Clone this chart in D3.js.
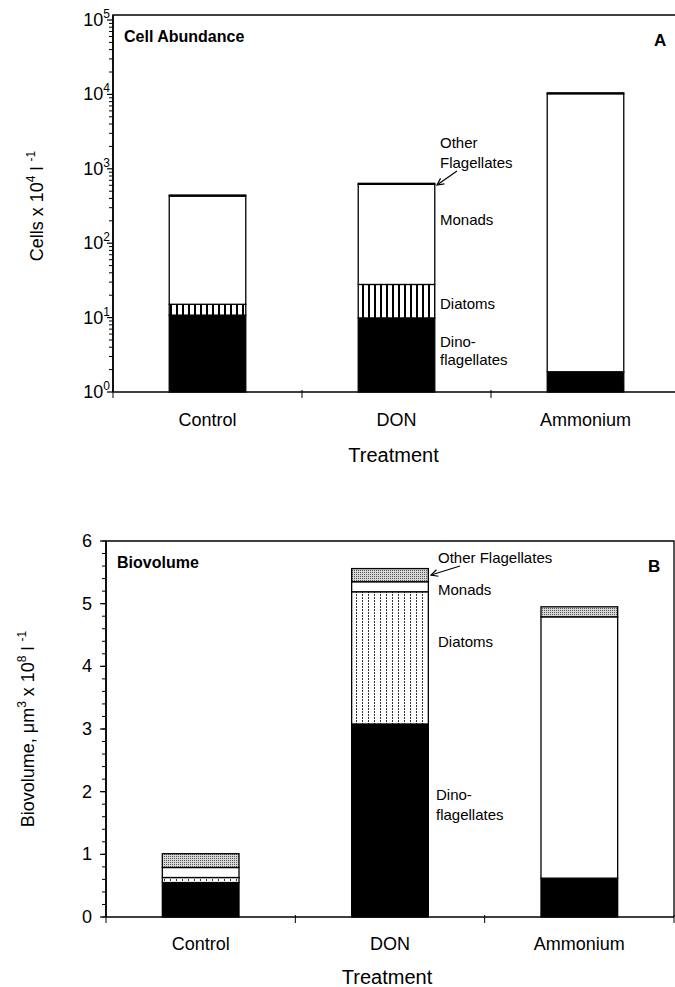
<!DOCTYPE html>
<html>
<head>
<meta charset="utf-8">
<script src="https://cdn.jsdelivr.net/npm/d3@7"></script>
<style>
  body { margin: 0; background: #fff; }
  svg { display: block; font-family: "Liberation Sans", Arial, sans-serif; }
</style>
</head>
<body>
<div id="chart"></div>
<script>
var treatments = ["Control", "DON", "Ammonium"];
var groups = ["Dino", "Diatoms", "Monads", "Other"];

// panel A, cells x 10^4 per litre
var cellsDino = [10.8, 9.9, 1.87];
var cellsDiatoms = [4.3, 18, 0];
var cellsMonads = [415, 590, 10200];
var cellsOther = [14, 20, 300];

// panel B, biovolume um3 x 10^8 per litre
var bioDino = [0.55, 3.08, 0.62];
var bioDiatoms = [0.08, 2.11, 0];
var bioMonads = [0.16, 0.16, 4.17];
var bioOther = [0.22, 0.21, 0.16];

var logTicks = [1, 10, 100, 1000, 10000, 100000];
var linTicks = [0, 1, 2, 3, 4, 5, 6];

var svg = d3.select("#chart").append("svg")
    .attr("width", 675)
    .attr("height", 987);

var defs = svg.append("defs");

var vlines = defs.append("pattern")
    .attr("id", "vlines").attr("patternUnits", "userSpaceOnUse")
    .attr("width", 6).attr("height", 6);
vlines.append("rect").attr("width", 6).attr("height", 6).attr("fill", "#fff");
vlines.append("rect").attr("x", 2).attr("width", 2).attr("height", 6).attr("fill", "#000");

var vdots = defs.append("pattern")
    .attr("id", "vdots").attr("patternUnits", "userSpaceOnUse")
    .attr("width", 6).attr("height", 3);
vdots.append("rect").attr("width", 6).attr("height", 3).attr("fill", "#fff");
vdots.append("rect").attr("x", 2).attr("width", 1).attr("height", 2).attr("fill", "#333");

var stipple = defs.append("pattern")
    .attr("id", "stipple").attr("patternUnits", "userSpaceOnUse")
    .attr("width", 2).attr("height", 2);
stipple.append("rect").attr("width", 2).attr("height", 2).attr("fill", "#d8d8d8");
stipple.append("rect").attr("width", 1).attr("height", 1).attr("fill", "#555");

defs.append("marker")
    .attr("id", "arrow").attr("viewBox", "0 0 10 10")
    .attr("refX", 9).attr("refY", 5)
    .attr("markerWidth", 7).attr("markerHeight", 7)
    .attr("orient", "auto")
  .append("path")
    .attr("d", "M1,1 L9,5 L1,9")
    .attr("fill", "none").attr("stroke", "#000").attr("stroke-width", 1.4);

function rows(a, b, c, d) {
    return treatments.map(function (t, i) {
        return { treatment: t, Dino: a[i], Diatoms: b[i], Monads: c[i], Other: d[i] };
    });
}

function drawPanel(p) {
    var g = svg.append("g");
    var x = d3.scaleBand().domain(treatments)
        .range([p.left, p.right]).paddingInner(0.595).paddingOuter(0.2975);
    var y = p.y;
    var y0 = y.range()[0];
    var yTop = y.range()[1];

    var series = d3.stack().keys(groups)(p.data);

    // frame
    g.append("path")
        .attr("d", "M" + p.left + "," + y0 + "V" + p.frameTop + "H" + p.right + "V" + y0)
        .attr("fill", "none").attr("stroke", "#000").attr("stroke-width", 1.3);

    // bars
    series.forEach(function (s, k) {
        g.selectAll(null)
            .data(s.filter(function (d) { return d[1] - d[0] > 0; }))
            .enter().append("rect")
            .attr("x", function (d) { return x(d.data.treatment); })
            .attr("width", x.bandwidth())
            .attr("y", function (d) { return y(d[1]); })
            .attr("height", function (d) { return y(Math.max(d[0], p.floor)) - y(d[1]); })
            .attr("fill", p.fills[k])
            .attr("stroke", "#000").attr("stroke-width", 1.3);
    });

    // x axis
    g.append("line").attr("x1", p.left).attr("x2", p.right)
        .attr("y1", y0).attr("y2", y0)
        .attr("stroke", "#000").attr("stroke-width", 1.6);
    var bounds = [p.left].concat(treatments.map(function (t) {
        return x(t) + x.bandwidth() / 2 + x.step() / 2;
    }));
    g.selectAll(null).data(bounds).enter().append("line")
        .attr("x1", function (d) { return d; }).attr("x2", function (d) { return d; })
        .attr("y1", y0 - 2).attr("y2", y0 + 6)
        .attr("stroke", "#000").attr("stroke-width", 1);
    g.selectAll(null).data(treatments).enter().append("text")
        .attr("x", function (d) { return x(d) + x.bandwidth() / 2; })
        .attr("y", y0 + p.catDy)
        .attr("text-anchor", "middle").attr("font-size", 18)
        .text(function (d) { return d; });
    g.append("text")
        .attr("x", (p.left + p.right) / 2 - 3).attr("y", y0 + p.titleDy)
        .attr("text-anchor", "middle").attr("font-size", 20)
        .text("Treatment");

    // y axis
    g.append("line").attr("x1", p.left).attr("x2", p.left)
        .attr("y1", y0).attr("y2", p.frameTop)
        .attr("stroke", "#000").attr("stroke-width", 1.6);
    g.selectAll(null).data(p.minor).enter().append("line")
        .attr("x1", p.left - 4).attr("x2", p.left)
        .attr("y1", function (d) { return y(d); }).attr("y2", function (d) { return y(d); })
        .attr("stroke", "#000").attr("stroke-width", 1);
    g.selectAll(null).data(p.ticks).enter().append("line")
        .attr("x1", p.left - 6).attr("x2", p.left)
        .attr("y1", function (d) { return y(d); }).attr("y2", function (d) { return y(d); })
        .attr("stroke", "#000").attr("stroke-width", 1.2);
    var tl = g.selectAll(null).data(p.ticks).enter().append("text")
        .attr("x", p.left - p.labelGap).attr("y", function (d) { return y(d) + 6; })
        .attr("text-anchor", "end").attr("font-size", 18);
    p.tickText(tl);

    // y title
    var yt = g.append("text")
        .attr("transform", "translate(" + p.yTitleX + "," + ((y0 + yTop) / 2) + ") rotate(-90)")
        .attr("text-anchor", "middle").attr("font-size", 18);
    p.yTitle(yt);

    // panel title and letter
    g.append("text").attr("x", p.left + 11).attr("y", p.frameTop + 27)
        .attr("font-size", 16).attr("font-weight", "bold").text(p.title);
    g.append("text").attr("x", p.letterX).attr("y", p.frameTop + 31)
        .attr("font-size", 17).attr("font-weight", "bold").text(p.letter);

    // labels
    p.labels.forEach(function (l) {
        g.append("text").attr("x", l[0]).attr("y", l[1])
            .attr("font-size", 15).text(l[2]);
    });
    g.append("line")
        .attr("x1", p.arrow[0]).attr("y1", p.arrow[1])
        .attr("x2", p.arrow[2]).attr("y2", p.arrow[3])
        .attr("stroke", "#000").attr("stroke-width", 1.2)
        .attr("marker-end", "url(#arrow)");
}

// minor log ticks 2..9 per decade
var logMinor = [];
logTicks.slice(0, -1).forEach(function (t) {
    for (var m = 2; m <= 9; m++) logMinor.push(t * m);
});

drawPanel({
    left: 113, right: 680, frameTop: 15,
    y: d3.scaleLog().domain([1, 100000]).range([392, 20]),
    floor: 1,
    data: rows(cellsDino, cellsDiatoms, cellsMonads, cellsOther),
    fills: ["#000", "url(#vlines)", "#fff", "#000"],
    ticks: logTicks, minor: logMinor, labelGap: 3,
    tickText: function (sel) {
        sel.append("tspan").text("10");
        sel.append("tspan").attr("dy", -8).attr("font-size", 12)
            .text(function (d) { return Math.round(Math.log10(d)); });
    },
    yTitleX: 43,
    yTitle: function (t) {
        t.append("tspan").text("Cells x 10");
        t.append("tspan").attr("dy", -8).attr("font-size", 12).text("4");
        t.append("tspan").attr("dy", 8).text(" l ");
        t.append("tspan").attr("dy", -8).attr("font-size", 12).text("-1");
    },
    catDy: 34, titleDy: 70,
    title: "Cell Abundance", letter: "A", letterX: 654,
    labels: [[440, 148, "Other"], [440, 168, "Flagellates"], [440, 225, "Monads"],
             [440, 309, "Diatoms"], [440, 347, "Dino-"], [440, 365, "flagellates"]],
    arrow: [457, 171, 437, 185]
});

drawPanel({
    left: 106, right: 674, frameTop: 541,
    y: d3.scaleLinear().domain([0, 6]).range([917, 541]),
    floor: 0,
    data: rows(bioDino, bioDiatoms, bioMonads, bioOther),
    fills: ["#000", "url(#vdots)", "#fff", "url(#stipple)"],
    ticks: linTicks, minor: d3.range(0, 6.01, 0.2), labelGap: 14,
    tickText: function (sel) { sel.text(function (d) { return d; }); },
    yTitleX: 34,
    yTitle: function (t) {
        t.append("tspan").text("Biovolume, \u03bcm");
        t.append("tspan").attr("dy", -8).attr("font-size", 12).text("3");
        t.append("tspan").attr("dy", 8).text(" x 10");
        t.append("tspan").attr("dy", -8).attr("font-size", 12).text("8");
        t.append("tspan").attr("dy", 8).text(" l ");
        t.append("tspan").attr("dy", -8).attr("font-size", 12).text("-1");
    },
    catDy: 33, titleDy: 67,
    title: "Biovolume", letter: "B", letterX: 648,
    labels: [[438, 563, "Other Flagellates"], [438, 595, "Monads"],
             [438, 647, "Diatoms"], [436, 800, "Dino-"], [436, 820, "flagellates"]],
    arrow: [460, 566, 431, 575]
});
</script>
</body>
</html>
